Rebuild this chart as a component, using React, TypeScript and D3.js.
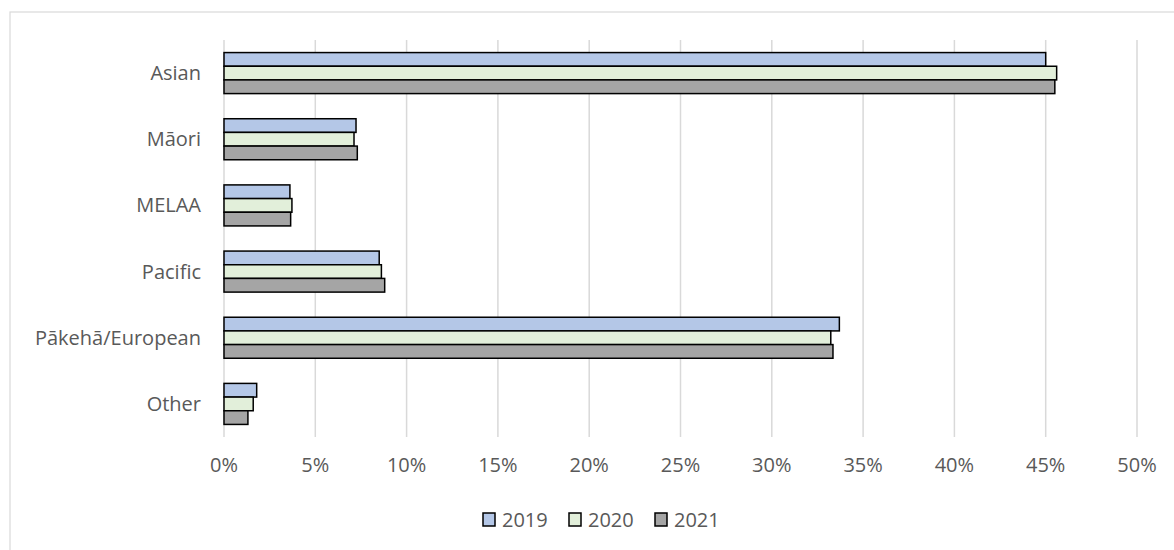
import React from "react";
import * as d3 from "d3";

const categories = ["Asian", "Māori", "MELAA", "Pacific", "Pākehā/European", "Other"];
const seriesNames = ["2019", "2020", "2021"];
const values2019 = [45.0, 7.23, 3.61, 8.5, 33.7, 1.79];
const values2020 = [45.6, 7.12, 3.72, 8.62, 33.23, 1.6];
const values2021 = [45.5, 7.3, 3.65, 8.8, 33.35, 1.31];
const xTicks = [0, 5, 10, 15, 20, 25, 30, 35, 40, 45, 50];
const seriesColors = ["#B4C7E7", "#E2EFDA", "#A5A5A5"];

const W = 1174;
const H = 550;
const plot = { left: 224, right: 1137, top: 40, bottom: 437 };

export default function App() {
  const series = [values2019, values2020, values2021];
  const x = d3.scaleLinear().domain([0, 50]).range([plot.left, plot.right]);
  const y = d3
    .scaleBand<string>()
    .domain(categories)
    .range([plot.top, plot.bottom])
    .paddingInner(0.38)
    .paddingOuter(0.19);
  const ySub = d3.scaleBand<string>().domain(seriesNames).range([0, y.bandwidth()]);

  const font = "'Open Sans', 'Noto Sans', sans-serif";
  const legendItems = [
    { x: 483, label: "2019" },
    { x: 569, label: "2020" },
    { x: 655, label: "2021" },
  ];

  return (
    <svg
      width={W}
      height={H}
      style={{ position: "absolute", left: 0, top: 0, background: "#fff" }}
      fontFamily={font}
    >
      <rect x={0} y={0} width={W} height={H} fill="#fff" />
      <rect x={10} y={12} width={W + 20} height={H + 20} fill="none" stroke="#D9D9D9" strokeWidth={1.2} />
      {xTicks.map((t) => (
        <line
          key={"g" + t}
          x1={x(t)}
          x2={x(t)}
          y1={plot.top}
          y2={plot.bottom}
          stroke="#D9D9D9"
          strokeWidth={1.5}
        />
      ))}
      {categories.map((c, i) => (
        <g key={c} transform={`translate(0,${y(c)})`}>
          {series.map((vals, s) => (
            <rect
              key={s}
              x={x(0)}
              y={ySub(seriesNames[s])}
              width={x(vals[i]) - x(0)}
              height={ySub.bandwidth()}
              fill={seriesColors[s]}
              stroke="#000"
              strokeWidth={1.5}
            />
          ))}
          <text
            x={201}
            y={y.bandwidth() / 2}
            dy="0.35em"
            textAnchor="end"
            fontSize={20}
            fill="#595959"
          >
            {c}
          </text>
        </g>
      ))}
      {xTicks.map((t) => (
        <text
          key={"t" + t}
          x={x(t)}
          y={465}
          dy="0.35em"
          textAnchor="middle"
          fontSize={20}
          fill="#595959"
        >
          {t + "%"}
        </text>
      ))}
      {legendItems.map((l, i) => (
        <g key={l.label}>
          <rect x={l.x} y={513} width={12} height={13} fill={seriesColors[i]} stroke="#000" strokeWidth={1.5} />
          <text x={l.x + 19} y={520} dy="0.35em" fontSize={20} fill="#595959">
            {l.label}
          </text>
        </g>
      ))}
    </svg>
  );
}
